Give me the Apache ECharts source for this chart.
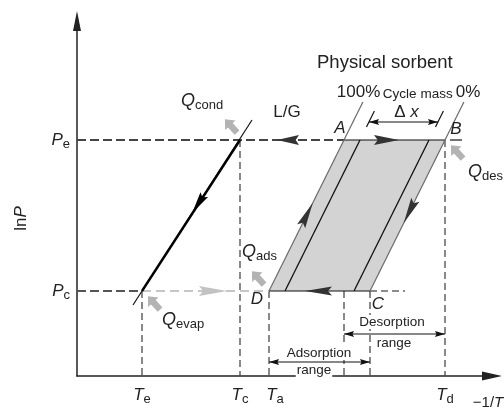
<!DOCTYPE html>
<html><head><meta charset="utf-8">
<script src="https://cdn.jsdelivr.net/npm/echarts@6/dist/echarts.min.js"></script>
<style>html,body{margin:0;padding:0;background:#fff}#c{width:504px;height:409px}</style>
</head><body><div id="c"></div>
<script>
// ---- data (arbitrary units on the -1/T and lnP axes) ----
const tempKeys = ['e', 'c', 'a', 'd'];
const tempValues = [13, 32.6, 38.4, 73.6];          // Te, Tc, Ta, Td
const pressKeys = ['e', 'c'];
const pressValues = [47.2, 17];                     // Pe, Pc
const isostereAtPc = [38.4, 41.6, 55.4, 58.6];      // 100%, inner, inner, 0%
const isostereAtPe = [53.4, 56.6, 70.4, 73.6];
const isostereTop = [54.8, 53, 53, 54.8];
const isostereExtFrom = [17, 49.8, 49.8, 17];
const lgLineX = [11.2, 35];
const lgLineY = [14.2, 51.2];
const desorptionRange = [53.4, 73.6];
const adsorptionRange = [38.4, 58.6];
const rangeLevels = [8.4, 2.8];
const deltaXRange = [58.4, 72.2];
const deltaXLevel = 50.8;
const peArrowTips = [40, 64.4];       // L/G arrow (left), A->B arrow (right)
const pcArrowTips = [30, 45.6];       // evaporator arrow (right), C->D arrow (left)
const isoArrowTips = [34.6, 30.6];    // lnP of arrow tips on 100% / 0% isostere
const lgArrowTip = 32.6;

const FONT = '"Liberation Sans", Arial, sans-serif';
const INK = '#222';

function renderItem(params, api) {
  const P = (x, y) => api.coord([x, y]);
  const els = [];
  const [Pe, Pc] = pressValues;
  const [Te, Tc, Ta, Td] = tempValues;
  const iso = (k, v) => isostereAtPc[k] + (isostereAtPe[k] - isostereAtPc[k]) * (v - Pc) / (Pe - Pc);
  const lgx = (v) => lgLineX[0] + (lgLineX[1] - lgLineX[0]) * (v - lgLineY[0]) / (lgLineY[1] - lgLineY[0]);

  function seg(a, b, style) {
    els.push({type: 'line', shape: {x1: a[0], y1: a[1], x2: b[0], y2: b[1]}, style: Object.assign({fill: null}, style)});
  }
  function head(tip, from, len, w, color) {
    const dx = tip[0] - from[0], dy = tip[1] - from[1], L = Math.hypot(dx, dy);
    const ux = dx / L, uy = dy / L;
    const bx = tip[0] - ux * len, by = tip[1] - uy * len;
    const nx = bx + ux * len * 0.15, ny = by + uy * len * 0.15;
    els.push({type: 'polygon', shape: {points: [tip, [bx - uy * w / 2, by + ux * w / 2], [nx, ny], [bx + uy * w / 2, by - ux * w / 2]]}, style: {fill: color}});
  }
  function block(c, dir, color) {
    const L = Math.hypot(dir[0], dir[1]); const ux = dir[0] / L, uy = dir[1] / L;
    const loc = [[9, 0], [1, 7], [1, 3.2], [-9, 3.2], [-9, -3.2], [1, -3.2], [1, -7]];
    const pts = loc.map(p => [c[0] + p[0] * ux - p[1] * uy, c[1] + p[0] * uy + p[1] * ux]);
    els.push({type: 'polygon', shape: {points: pts}, style: {fill: color}});
  }
  function txt(x, y, text, opt, elem) {
    els.push(Object.assign({type: 'text', x: x, y: y, style: Object.assign({text: text, fill: INK, font: '17px ' + FONT, align: 'center', verticalAlign: 'middle'}, opt || {})}, elem || {}));
  }
  const qRich = {
    q: {font: 'italic 18px ' + FONT, fill: INK, lineHeight: 22},
    s: {font: '13px ' + FONT, fill: INK, lineHeight: 10, verticalAlign: 'bottom'}
  };
  const off = (p, dx, dy) => [p[0] + dx, p[1] + dy];

  const A = P(iso(0, Pe), Pe), B = P(iso(3, Pe), Pe), C = P(iso(3, Pc), Pc), D = P(iso(0, Pc), Pc);

  // sorbent band
  els.push({type: 'polygon', shape: {points: [D, A, B, C]}, style: {fill: '#d3d3d3'}});

  const dashV = {stroke: '#4a4a4a', lineWidth: 1.3, lineDash: [7, 4]};
  // vertical guide lines
  seg(P(Te, Pc), P(Te, 0), dashV);
  seg(P(Tc, Pe), P(Tc, 0), dashV);
  seg(P(Ta, Pc), P(Ta, 0), dashV);
  seg(P(desorptionRange[0], Pc), P(desorptionRange[0], 0), dashV);
  seg(P(adsorptionRange[1], Pc), P(adsorptionRange[1], 0), dashV);
  seg(P(Td, Pe), P(Td, 0), dashV);

  // horizontal pressure levels
  seg(P(0, Pe), A, {stroke: '#444', lineWidth: 2, lineDash: [9, 4]});
  seg(off(B, 5, 0), off(B, 17, 0), {stroke: '#444', lineWidth: 1.5});
  seg(P(0, Pc), P(Te, Pc), {stroke: '#555', lineWidth: 1.8, lineDash: [9, 4]});
  seg(P(Te, Pc), D, {stroke: '#c6c6c6', lineWidth: 2.2, lineDash: [9, 5]});
  seg(C, P(adsorptionRange[1] + 7, Pc), {stroke: '#666', lineWidth: 1.3, lineDash: [7, 4]});
  seg(A, B, {stroke: '#111', lineWidth: 1.2});
  seg(D, C, {stroke: '#111', lineWidth: 1.2});

  // isosteres
  [0, 3].forEach(k => seg(P(iso(k, Pc), Pc), P(iso(k, isostereTop[k]), isostereTop[k]), {stroke: '#6a6a6a', lineWidth: 1.2}));
  [1, 2].forEach(k => {
    seg(P(iso(k, Pc), Pc), P(iso(k, Pe), Pe), {stroke: '#111', lineWidth: 1.3});
    seg(P(iso(k, isostereExtFrom[k]), isostereExtFrom[k]), P(iso(k, isostereTop[k]), isostereTop[k]), {stroke: '#111', lineWidth: 1.2});
  });

  // condensation / evaporation (L/G) line
  seg(P(lgLineX[0], lgLineY[0]), P(lgLineX[1], lgLineY[1]), {stroke: '#111', lineWidth: 1.2});
  seg(P(Te, Pc), P(Tc, Pe), {stroke: '#000', lineWidth: 2.4});
  head(P(lgx(lgArrowTip), lgArrowTip), P(Tc, Pe), 22, 9, '#000');

  // ranges
  const rng = (r, v) => {
    const a = P(r[0], v), b = P(r[1], v);
    seg(a, b, {stroke: '#111', lineWidth: 1.1});
    head(a, b, 10, 6, '#111'); head(b, a, 10, 6, '#111');
  };
  rng(desorptionRange, rangeLevels[0]);
  rng(adsorptionRange, rangeLevels[1]);
  rng(deltaXRange, deltaXLevel);

  // flow arrows
  head(P(peArrowTips[0], Pe), P(peArrowTips[0] + 5, Pe), 22, 10, '#333');
  head(P(peArrowTips[1], Pe), P(peArrowTips[1] - 5, Pe), 25, 10, '#333');
  head(P(pcArrowTips[0], Pc), P(pcArrowTips[0] - 5, Pc), 28, 10, '#c2c2c2');
  head(P(pcArrowTips[1], Pc), P(pcArrowTips[1] + 5, Pc), 27, 9, '#333');
  head(P(iso(0, isoArrowTips[0]), isoArrowTips[0]), P(iso(0, Pc), Pc), 26, 9, '#333');
  head(P(iso(3, isoArrowTips[1]), isoArrowTips[1]), P(iso(3, Pe), Pe), 26, 9, '#333');

  // heat flow block arrows
  const G = '#b3b3b3', up = [-1, -1.1];
  const TcPe = P(Tc, Pe), TePc = P(Te, Pc);
  block(off(TcPe, -9, -14), up, G);
  block(off(TePc, 12, 12), up, G);
  block(off(D, -11, -13), up, G);
  block(off(B, 12, 12), up, G);

  // labels
  txt(A[0] - 4, A[1] - 12, 'A', {font: 'italic 17px ' + FONT});
  txt(B[0] + 11, B[1] - 11, 'B', {font: 'italic 17px ' + FONT});
  txt(D[0] - 12, D[1] + 8, 'D', {font: 'italic 17px ' + FONT});
  txt(C[0] + 8, C[1] + 13, 'C', {font: 'italic 17px ' + FONT});
  txt(TcPe[0] + 47, TcPe[1] - 28, 'L/G');
  const top = P(iso(3, isostereTop[3]), isostereTop[3]);
  txt(top[0] - 79, top[1] - 39, 'Physical sorbent', {font: '18.5px ' + FONT});
  txt(top[0] - 127, top[1] - 10, '100%', {align: 'left'});
  txt(top[0] - 81, top[1] - 8, 'Cycle mass', {align: 'left', font: '13.5px ' + FONT});
  txt(top[0] - 8, top[1] - 10, '0%', {align: 'left'});
  const dxc = P((deltaXRange[0] + deltaXRange[1]) / 2, deltaXLevel);
  txt(dxc[0] + 3, dxc[1] - 10, '{n|Δ} {i|x}', {rich: {n: {font: '17px ' + FONT, fill: INK}, i: {font: 'italic 17px ' + FONT, fill: INK}}});

  const qlab = (x, y, sub) => txt(x, y, '{q|Q}{s|' + sub + '}', {align: 'left', verticalAlign: 'top', rich: qRich});
  qlab(TcPe[0] - 59, TcPe[1] - 50, 'cond');
  qlab(B[0] + 23, B[1] + 21, 'des');
  qlab(D[0] - 27, D[1] - 50, 'ads');
  qlab(TePc[0] + 20, TePc[1] + 18, 'evap');

  const rtxt = {font: '13.5px ' + FONT, backgroundColor: '#fff', padding: [0, 1]};
  const dr = P(desorptionRange[0], rangeLevels[0]);
  txt(dr[0] + 48, dr[1] - 12, 'Desorption', rtxt);
  txt(dr[0] + 50, dr[1] + 9, 'range', rtxt);
  const ar = P(adsorptionRange[0], rangeLevels[1]);
  txt(ar[0] + 50, ar[1] - 9, 'Adsorption', rtxt);
  txt(ar[0] + 45, ar[1] + 8, 'range', rtxt);

  const o = P(0, 0);
  txt(o[0] - 56, P(0, (Pe + Pc) / 2 - 0.6)[1], '{n|ln}{p|P}',
      {rich: {n: {font: '17px ' + FONT, fill: INK}, p: {font: 'italic 17px ' + FONT, fill: INK}}},
      {rotation: Math.PI / 2});
  const xe = P(83, 0);
  txt(xe[0] - 4, xe[1] + 27, '{n|−1/}{i|T}', {rich: {n: {font: '15px ' + FONT, fill: INK}, i: {font: 'italic 15px ' + FONT, fill: INK}}});

  return {type: 'group', children: els};
}

const chart = echarts.init(document.getElementById('c'), null, {renderer: 'canvas'});
chart.setOption({
  animation: false,
  backgroundColor: '#fff',
  grid: {left: 77, right: 12, top: 21, bottom: 33},
  xAxis: {
    type: 'value', min: 0, max: 83,
    axisLine: {show: true, symbol: ['none', 'triangle'], symbolSize: [9, 20], lineStyle: {color: INK, width: 1.5}},
    axisTick: {show: false}, splitLine: {show: false},
    axisLabel: {
      customValues: tempValues, margin: 8,
      formatter: v => { const i = tempValues.indexOf(v); return i < 0 ? '' : (tempKeys[i] === 'a' ? '{ta|T}' : '{t|T}') + '{s|' + tempKeys[i] + '}'; },
      rich: {
        t: {fontFamily: FONT, fontStyle: 'italic', fontSize: 17, color: INK, lineHeight: 22},
        ta: {fontFamily: FONT, fontStyle: 'italic', fontSize: 17, color: INK, lineHeight: 22, padding: [0, 0, 0, 12]},
        s: {fontFamily: FONT, fontSize: 13, color: INK, lineHeight: 10, verticalAlign: 'bottom'}
      }
    }
  },
  yAxis: {
    type: 'value', min: 0, max: 71,
    axisLine: {show: true, symbol: ['none', 'triangle'], symbolSize: [8, 20], lineStyle: {color: INK, width: 1.5}},
    axisTick: {show: false}, splitLine: {show: false},
    axisLabel: {
      customValues: pressValues, margin: 7,
      formatter: v => { const i = pressValues.indexOf(v); return i < 0 ? '' : '{p|P}{s|' + pressKeys[i] + '}'; },
      rich: {
        p: {fontFamily: FONT, fontStyle: 'italic', fontSize: 17, color: INK, lineHeight: 22},
        s: {fontFamily: FONT, fontSize: 13, color: INK, lineHeight: 10, verticalAlign: 'bottom'}
      }
    }
  },
  series: [{
    type: 'custom', coordinateSystem: 'cartesian2d', clip: false, silent: true,
    renderItem: renderItem, data: [[0, 0]]
  }]
});
</script></body></html>
